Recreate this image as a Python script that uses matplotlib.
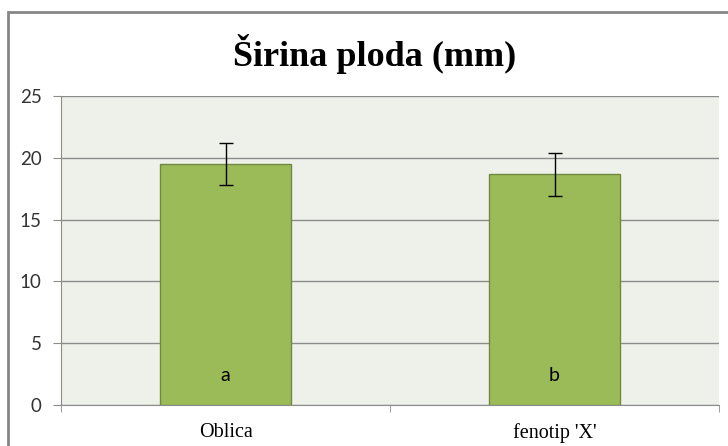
import numpy as np
import matplotlib.pyplot as plt
from matplotlib.patches import Rectangle

# data
categories = ["Oblica", "fenotip 'X'"]
means = [19.5, 18.65]
errors = [1.7, 1.75]
letters = ["a", "b"]

W, H = 728, 446
fig = plt.figure(figsize=(W / 100, H / 100), dpi=100)
fig.patch.set_facecolor("white")

# outer chart border (cut off at right/bottom like the screenshot)
fig.patches.append(Rectangle((8 / W, -0.1), 1.2, (H - 12) / H + 0.1,
                             transform=fig.transFigure, fill=False,
                             edgecolor="#868686", linewidth=2))

left, right, top, bottom = 61, 719, 96, 405
ax = fig.add_axes([left / W, 1 - bottom / H, (right - left) / W, (bottom - top) / H])
ax.set_facecolor("#EEF1E9")

x = np.arange(len(categories))
ax.bar(x, means, width=0.4, color="#9BBB59", edgecolor="#71893F", linewidth=1, zorder=3)
ax.errorbar(x, means, yerr=errors, fmt="none", ecolor="black", elinewidth=1,
            capsize=5, capthick=1, zorder=4)
for xi, lab in zip(x, letters):
    ax.text(xi, 2.4, lab, ha="center", va="center", fontsize=14,
            family="Lato", zorder=5)

ax.set_xlim(-0.5, 1.5)
ax.set_ylim(0, 25)
ax.set_yticks(range(0, 26, 5))
ax.yaxis.grid(True, color="#8C8C8C", linewidth=1, zorder=0)
ax.set_axisbelow(True)
ax.tick_params(axis="y", length=6, color="#8C8C8C", labelsize=13.5, pad=8)
for t in ax.get_yticklabels():
    t.set_family("Lato")
    t.set_color("#333333")

ax.set_xticks(x)
ax.set_xticklabels(categories, family="Liberation Serif", fontsize=14.5)
ax.set_xticks([-0.5, 0.5, 1.5], minor=True)
ax.tick_params(axis="x", which="major", length=0, pad=13)
ax.tick_params(axis="x", which="minor", length=5, color="#8C8C8C")

for s in ["top", "right"]:
    ax.spines[s].set_visible(False)
ax.spines["left"].set_color("#8C8C8C")
ax.spines["bottom"].set_color("#8C8C8C")

fig.text((232 + 517) / 2 / W, 1 - 54 / H, "Širina ploda (mm)", ha="center",
         va="center", fontsize=26, fontweight="bold", family="Liberation Serif")

fig.savefig("out.png", dpi=100)
